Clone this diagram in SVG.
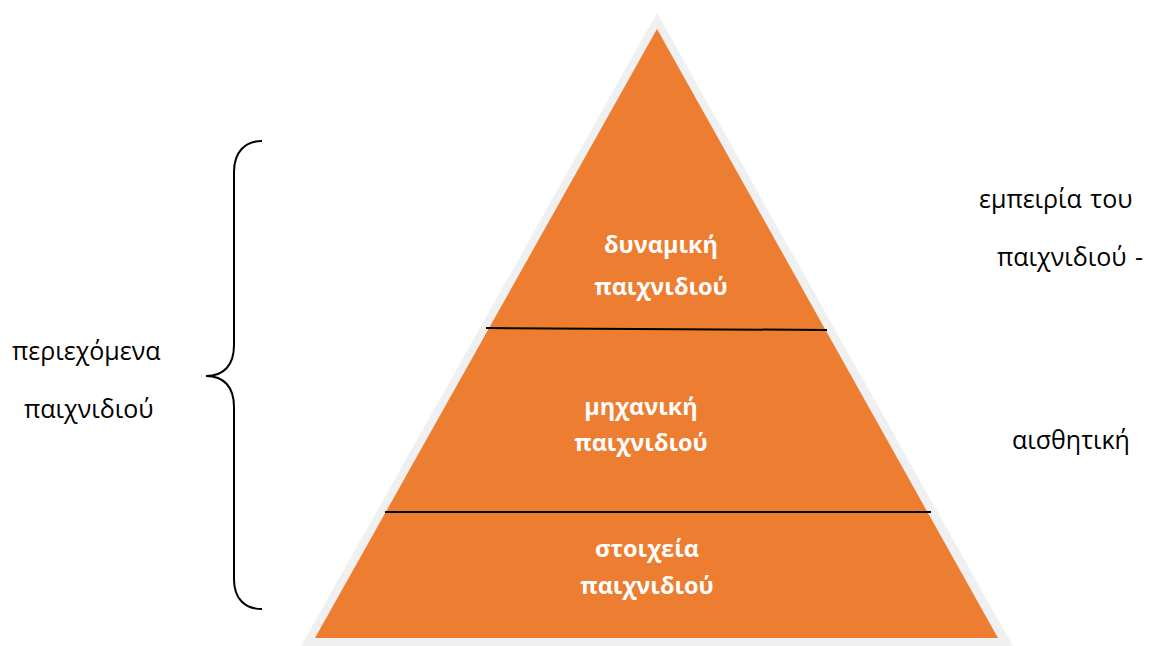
<svg xmlns="http://www.w3.org/2000/svg" width="1151" height="646" viewBox="0 0 1151 646">
<style>
.lbl{font-family:"Open Sans","Liberation Sans",Arial,sans-serif;font-size:25px;fill:#000}
.in{font-family:"Open Sans","Liberation Sans",Arial,sans-serif;font-size:23.5px;font-weight:bold;fill:#fff;text-anchor:middle}
.sep{stroke:#000;stroke-width:2}
</style>
<rect width="1151" height="646" fill="#fff"/>
<g id="pyramid">
<polygon points="657,13 1013,646 301,646" fill="#f0f0f0"/>
<polygon points="657,29 998,638 315,638" fill="#ed7d31"/>
</g>
<g id="connectors">
<line class="sep" x1="486" y1="328" x2="827" y2="330"/>
<line class="sep" x1="385" y1="512" x2="931" y2="512"/>
<path d="M262,141 C245,141 234,152 234,172 L234,345 C234,365 224,376 206,376 C224,376 234,387 234,407 L234,579 C234,599 245,609 262,609" fill="none" stroke="#000" stroke-width="2"/>
</g>
<g id="node-dynamics">
<text class="in" x="661" y="253">δυναμική</text>
<text class="in" x="661" y="295">παιχνιδιού</text>
</g>
<g id="node-mechanics">
<text class="in" x="641" y="415">μηχανική</text>
<text class="in" x="641" y="451">παιχνιδιού</text>
</g>
<g id="node-elements">
<text class="in" x="647" y="557">στοιχεία</text>
<text class="in" x="647" y="594">παιχνιδιού</text>
</g>
<g id="label-left">
<text class="lbl" x="12" y="360">περιεχόμενα</text>
<text class="lbl" x="24" y="418">παιχνιδιού</text>
</g>
<g id="label-right">
<text class="lbl" x="979" y="208" word-spacing="2">εμπειρία του</text>
<text class="lbl" x="997" y="266" word-spacing="2">παιχνιδιού -</text>
<text class="lbl" x="1012" y="449">αισθητική</text>
</g>
</svg>
